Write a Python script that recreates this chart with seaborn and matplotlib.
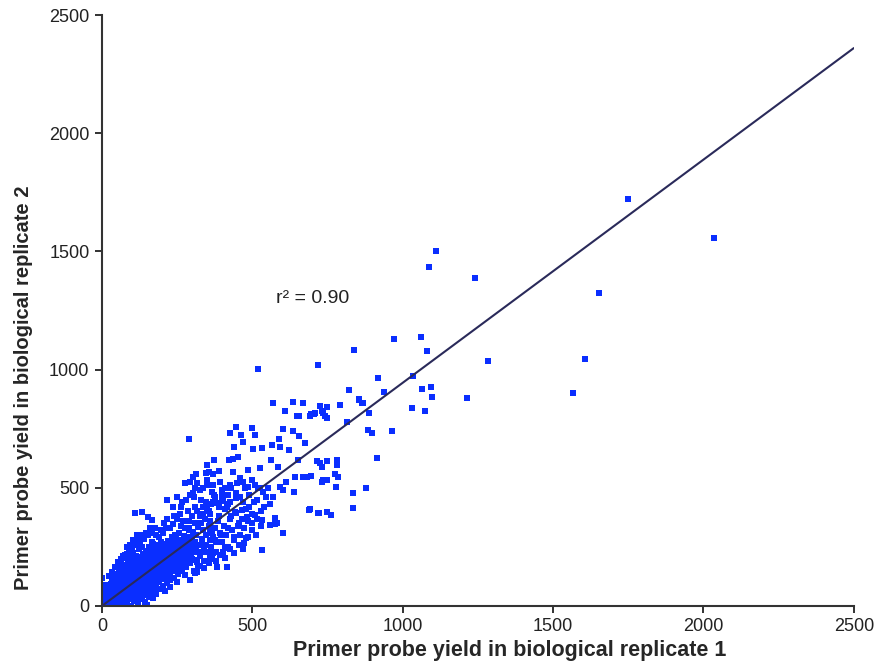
import pandas as pd
import matplotlib.pyplot as plt
import seaborn as sns

# points (replicate 1, replicate 2)
core_pts = [
    (0, 3), (2, 14), (1, 27), (4, 40), (0, 55), (3, 68), (1, 90), (0, 118), (6, 8), (7, 22), (5, 35), (8, 50),
    (11, 2), (13, 16), (12, 30), (15, 44), (14, 58), (17, 72), (19, 10), (18, 25), (16, 88), (20, 40), (22, 55),
    (24, 3), (26, 18), (25, 33), (28, 48), (27, 62), (30, 77), (29, 95), (31, 12), (33, 28), (32, 110),
    (36, 6), (35, 22), (38, 38), (37, 54), (40, 68), (39, 83), (42, 100), (41, 120), (44, 15), (43, 47), (45, 135),
    (48, 4), (47, 26), (50, 42), (49, 58), (52, 74), (51, 90), (54, 106), (53, 122), (56, 140), (55, 32), (57, 155),
    (60, 10), (59, 30), (62, 48), (61, 64), (64, 80), (63, 96), (66, 112), (65, 128), (68, 146), (67, 162), (62, 178),
    (72, 2), (71, 22), (74, 40), (73, 58), (76, 74), (75, 90), (78, 106), (77, 122), (80, 138), (79, 156), (76, 172),
    (84, 12), (83, 35), (86, 52), (85, 70), (88, 86), (87, 102), (90, 118), (89, 134), (92, 150), (91, 168), (88, 186),
    (96, 0), (95, 28), (98, 45), (97, 64), (100, 80), (99, 96), (102, 112), (101, 128), (104, 144), (103, 160),
    (100, 178), (102, 196), (105, 225), (94, 200),
    (108, 20), (107, 42), (110, 60), (109, 78), (112, 94), (111, 110), (114, 126), (113, 142), (116, 158),
    (115, 174), (112, 192), (114, 210),
    (120, 8), (119, 35), (122, 55), (121, 72), (124, 90), (123, 106), (126, 122), (125, 138), (128, 154),
    (127, 170), (124, 188), (126, 206), (122, 240), (128, 262),
    (132, 30), (131, 50), (134, 68), (133, 86), (136, 102), (135, 118), (138, 134), (137, 150), (140, 166),
    (139, 182), (136, 200), (138, 218), (134, 250), (140, 285),
    (144, 15), (143, 45), (146, 64), (145, 82), (148, 98), (147, 114), (150, 130), (149, 146), (152, 162),
    (151, 178), (148, 196), (150, 214), (146, 232), (152, 300), (150, 5),
    (156, 40), (155, 60), (158, 78), (157, 96), (160, 112), (159, 128), (162, 144), (161, 160), (164, 176),
    (163, 192), (160, 210), (162, 228), (158, 248), (165, 270),
    (168, 55), (167, 75), (170, 92), (169, 110), (172, 126), (171, 142), (174, 158), (173, 174), (176, 190),
    (175, 206), (172, 224), (174, 242), (170, 262), (168, 36),
    (180, 50), (179, 88), (182, 106), (181, 124), (184, 140), (183, 156), (186, 172), (185, 188), (188, 204),
    (187, 220), (184, 238), (186, 256), (190, 290), (185, 70),
    (192, 72), (191, 100), (194, 118), (193, 136), (196, 152), (195, 168), (198, 184), (197, 200), (200, 216),
    (199, 232), (196, 250), (198, 270), (202, 310),
    (204, 84), (203, 112), (206, 130), (205, 148), (208, 164), (207, 180), (210, 196), (209, 212), (212, 228),
    (211, 244), (208, 262), (210, 62), (214, 330),
    (216, 96), (215, 124), (218, 142), (217, 160), (220, 176), (219, 192), (222, 208), (221, 224), (224, 240),
    (223, 256), (220, 276), (226, 80),
    (228, 108), (227, 136), (230, 154), (229, 172), (232, 188), (231, 204), (234, 220), (233, 236), (236, 252),
    (235, 270), (232, 290), (238, 345),
    (240, 120), (239, 148), (242, 166), (241, 184), (244, 200), (243, 216), (246, 232), (245, 248), (248, 264),
    (247, 282), (244, 300), (250, 100),
    (252, 135), (254, 160), (253, 180), (256, 198), (255, 214), (258, 230), (257, 246), (260, 262), (259, 280),
    (256, 310), (262, 340),
    (266, 150), (265, 175), (268, 195), (267, 212), (270, 228), (269, 246), (272, 262), (271, 280), (274, 298),
    (276, 130),
    (280, 165), (282, 200), (281, 220), (284, 238), (283, 256), (286, 272), (285, 290), (288, 320), (290, 360),
    (294, 180), (296, 215), (295, 235), (298, 252), (297, 270), (300, 290), (302, 315), (305, 150),
    (308, 195), (310, 230), (312, 250), (311, 272), (314, 300), (318, 335), (316, 400), (320, 170),
    (325, 210), (328, 260), (332, 285), (335, 320), (338, 245), (342, 370), (345, 300), (350, 230),
    (355, 340), (358, 280), (348, 415), (340, 190),
]

band_pts = [
    (362, 250), (368, 290), (375, 330), (380, 230), (385, 360), (392, 310), (398, 270), (405, 340),
    (412, 300), (418, 250), (425, 370), (432, 320), (438, 280), (445, 395), (452, 340), (458, 300),
    (465, 370), (472, 330), (478, 410), (485, 360), (355, 400), (362, 430), (372, 470), (388, 420),
    (402, 445), (418, 430), (430, 500), (446, 480), (460, 460), (475, 500), (490, 470), (505, 440),
    (520, 500), (500, 390), (515, 370), (530, 400), (545, 460), (560, 430), (330, 350), (335, 390),
    (345, 440), (358, 360), (365, 200), (378, 190), (392, 215), (408, 205), (425, 240), (438, 225),
    (455, 260), (470, 240), (485, 290), (498, 320), (512, 300), (528, 340), (300, 380), (310, 420),
    (285, 400), (270, 360), (260, 390), (275, 330), (290, 330), (305, 460), (280, 450), (262, 420),
    (250, 370), (240, 380), (228, 330), (215, 370), (205, 350), (195, 320), (180, 300), (165, 310),
    (160, 330), (175, 330), (145, 310), (130, 300), (120, 280), (110, 260), (100, 240), (90, 230),
    (115, 300), (105, 280), (95, 260), (85, 250), (75, 205), (65, 200), (55, 185), (45, 165),
    (35, 145), (25, 125), (260, 190), (272, 170), (290, 190), (300, 200), (315, 185), (325, 170),
    (340, 160), (355, 180), (310, 140), (330, 230), (345, 260), (360, 320), (375, 280),
]

mid_pts = [
    (110, 393), (133, 398), (70, 211), (93, 216), (78, 214), (83, 218), (153, 376), (166, 364),
    (216, 448), (249, 461), (236, 419), (266, 440), (293, 470), (302, 546), (316, 520), (349, 533),
    (289, 706), (426, 732), (445, 757), (499, 753), (462, 723), (509, 723), (469, 694), (439, 672),
    (502, 664), (532, 668), (565, 681), (588, 706), (602, 749), (635, 740), (655, 719), (675, 689),
    (569, 859), (608, 825), (635, 863), (668, 859), (725, 846), (655, 804), (695, 812), (708, 816),
    (731, 825), (741, 804), (592, 672), (622, 660), (422, 618), (436, 622), (452, 630), (372, 618),
    (349, 596), (562, 618), (585, 588), (525, 584), (485, 575), (436, 567), (389, 571), (369, 558),
    (346, 563), (356, 567), (312, 558), (276, 520), (293, 525), (652, 618), (715, 613),
    (748, 613), (731, 588), (748, 533), (731, 525), (681, 546), (668, 546), (695, 550), (642, 546),
    (638, 482), (612, 525), (592, 503), (602, 491), (552, 499), (569, 461), (525, 499), (535, 482),
    (509, 512), (485, 503), (499, 533), (469, 525), (459, 541), (449, 520), (426, 512), (409, 499),
    (392, 525), (399, 491), (369, 512), (366, 482), (349, 512), (336, 499), (326, 491), (309, 499),
    (302, 478), (688, 406), (718, 393), (748, 398), (575, 372), (582, 351), (559, 343), (532, 364),
    (509, 385), (482, 377), (499, 351), (465, 406), (442, 398), (426, 440), (416, 419), (399, 448),
    (376, 461), (382, 436), (575, 364), (575, 347), (602, 309), (532, 237), (472, 266), (479, 288),
    (416, 165), (382, 165), (293, 110), (316, 144), (170, 34), (359, 207), (369, 224), (402, 228),
    (409, 245), (395, 300), (420, 330), (380, 270), (440, 290), (455, 350), (365, 310), (390, 380),
    (410, 410), (430, 380), (445, 455), (470, 440), (400, 470), (370, 440), (420, 470), (490, 420),
    (515, 450), (540, 420), (360, 390), (335, 420), (325, 380), (310, 350), (330, 450),
]

outlier_pts = [
    (821, 914), (791, 850), (748, 842), (735, 816), (748, 795), (854, 871), (867, 859), (888, 816),
    (691, 804), (705, 812), (648, 804), (814, 778), (884, 744), (897, 732), (914, 626), (964, 740),
    (834, 478), (834, 415), (878, 499), (721, 393), (761, 385), (691, 410), (774, 558), (784, 546),
    (735, 533), (778, 503), (725, 605), (781, 618), (781, 596), (918, 964), (937, 905), (854, 876),
    (864, 859), (1034, 973), (1031, 838), (1074, 825), (1064, 918), (1094, 926), (1097, 884),
    (1213, 880), (1081, 1079), (1061, 1138), (971, 1129), (838, 1083), (519, 1003), (718, 1019),
    (1087, 1434), (1110, 1502), (1240, 1387), (1283, 1036), (1652, 1324), (1606, 1045),
    (1566, 901), (1749, 1722), (2035, 1557),
]

fit_slope = 0.944
x_limits = [0, 2500]
ticks = [0, 500, 1000, 1500, 2000, 2500]

df = pd.DataFrame(core_pts + band_pts + mid_pts + outlier_pts, columns=["rep1", "rep2"])
fit = pd.DataFrame({"rep1": x_limits, "rep2": [v * fit_slope for v in x_limits]})

sns.set_style("ticks")
plt.rcParams["font.family"] = ["Liberation Sans", "DejaVu Sans"]

fig = plt.figure(figsize=(8.94, 6.67), dpi=100)
ax = fig.add_axes([0.114, 0.0915, 0.841, 0.886])

sns.scatterplot(data=df, x="rep1", y="rep2", ax=ax, marker="s", s=13,
                linewidth=0, color="#0a2eff", zorder=2)
sns.lineplot(data=fit, x="rep1", y="rep2", ax=ax, color="#2a2a5a",
             linewidth=1.5, zorder=3)

ax.set_xlim(0, 2500)
ax.set_ylim(0, 2500)
ax.set_xticks(ticks)
ax.set_yticks(ticks)
ax.tick_params(direction="out", length=5, width=1.3, labelsize=13,
               colors="#222222", pad=4)
for side in ["left", "bottom"]:
    ax.spines[side].set_linewidth(1.5)
    ax.spines[side].set_color("#333333")
sns.despine(ax=ax)

ax.set_xlabel("Primer probe yield in biological replicate 1",
              fontsize=15.5, fontweight="bold")
ax.set_ylabel("Primer probe yield in biological replicate 2",
              fontsize=14.5, fontweight="bold")
# labels sit off-centre in the original
ax.xaxis.set_label_coords(0.543, -0.058)
ax.yaxis.set_label_coords(-0.092, 0.37)
ax.text(580, 1300, "r² = 0.90", fontsize=14, ha="left", va="center",
        color="#222222")

fig.savefig("out.png", dpi=100)
